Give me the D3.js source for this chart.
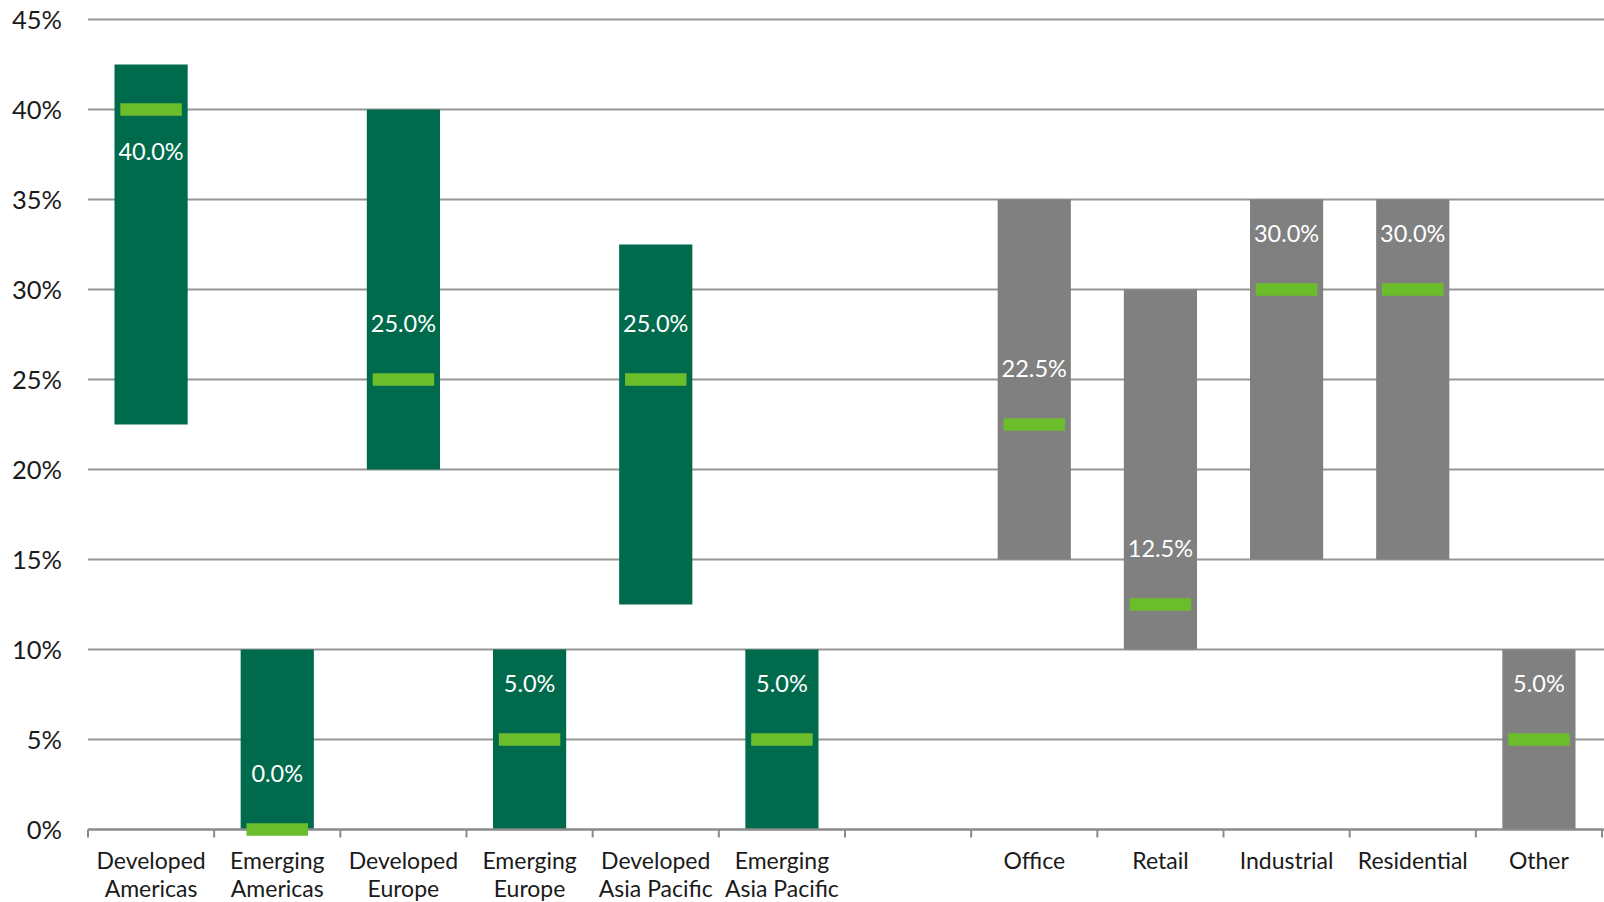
<!DOCTYPE html>
<html><head><meta charset="utf-8">
<script src="https://cdn.jsdelivr.net/npm/d3@7"></script>
<style>
html,body{margin:0;padding:0;background:#fff;}
svg{display:block;font-family:Lato,"Open Sans",sans-serif;}
</style></head>
<body>
<svg id="chart" width="1604" height="902"></svg>
<script>
// ---- data ----
const categories = ["Developed\nAmericas","Emerging\nAmericas","Developed\nEurope","Emerging\nEurope","Developed\nAsia Pacific","Emerging\nAsia Pacific","","Office","Retail","Industrial","Residential","Other"];
const groups = ["region","region","region","region","region","region","none","sector","sector","sector","sector","sector"];
const lowValues = [22.5,0,20,0,12.5,0,null,15,10,15,15,0];
const highValues = [42.5,10,40,10,32.5,10,null,35,30,35,35,10];
const targetValues = [40,0,25,5,25,5,null,22.5,12.5,30,30,5];
const yTicks = [0,5,10,15,20,25,30,35,40,45];

// ---- layout ----
const mLeft = 88, mRight = 1602, mTop = 19.5, mBottom = 829.5;
const svg = d3.select("#chart");
const colors = {region:"#006B4C", sector:"#808080"};
const markerColor = "#6CBD2B";

const x = d3.scaleBand().domain(d3.range(categories.length)).range([mLeft, mRight]).paddingInner(0.42).paddingOuter(0.21);
const xOuter = d3.scaleBand().domain(d3.range(categories.length)).range([mLeft, mRight]);
const y = d3.scaleLinear().domain([0,45]).range([mBottom, mTop]);

// gridlines
svg.append("g").selectAll("line").data(yTicks.filter(d=>d>0)).join("line")
  .attr("x1", mLeft).attr("x2", mRight+2)
  .attr("y1", d=>y(d)).attr("y2", d=>y(d))
  .attr("stroke","#959595").attr("stroke-width",2);

// y labels
svg.append("g").selectAll("text").data(yTicks).join("text")
  .attr("x", 62).attr("y", d=>y(d)).attr("dy","0.36em")
  .attr("text-anchor","end").attr("font-size",25.5).attr("fill","#1a1a1a")
  .text(d=>d+"%");

const idx = d3.range(categories.length).filter(i=>lowValues[i]!==null);

// bars
svg.append("g").selectAll("rect").data(idx).join("rect")
  .attr("x", i=>x(i)).attr("width", x.bandwidth())
  .attr("y", i=>y(highValues[i])).attr("height", i=>y(lowValues[i])-y(highValues[i]))
  .attr("fill", i=>colors[groups[i]]);

// x axis line + ticks
svg.append("line").attr("x1",mLeft).attr("x2",mRight+2).attr("y1",mBottom).attr("y2",mBottom)
  .attr("stroke","#8a8a8a").attr("stroke-width",2.5);
svg.append("g").selectAll("line").data(d3.range(categories.length+1)).join("line")
  .attr("x1", i=> i<categories.length ? xOuter(i) : mRight)
  .attr("x2", i=> i<categories.length ? xOuter(i) : mRight)
  .attr("y1", mBottom).attr("y2", mBottom+8)
  .attr("stroke","#8a8a8a").attr("stroke-width",2);

// markers
const mw = x.bandwidth()*0.84, mh = 12.5;
svg.append("g").selectAll("rect").data(idx).join("rect")
  .attr("x", i=>x(i)+(x.bandwidth()-mw)/2).attr("width", mw)
  .attr("y", i=>y(targetValues[i])-mh/2).attr("height", mh)
  .attr("fill", markerColor);

// value labels: above marker unless it would leave the bar, then below
svg.append("g").selectAll("text").data(idx).join("text")
  .attr("x", i=>x(i)+x.bandwidth()/2)
  .attr("y", i=>{
    const above = y(targetValues[i]) - 56;
    return above < y(highValues[i]) ? y(targetValues[i]) + 42 : above;
  })
  .attr("dy","0.36em").attr("text-anchor","middle")
  .attr("font-size",23.5).attr("fill","#fff")
  .text(i=>targetValues[i].toFixed(1)+"%");

// category labels
const cl = svg.append("g").selectAll("text").data(d3.range(categories.length)).join("text")
  .attr("text-anchor","middle").attr("font-size",23).attr("fill","#1a1a1a")
  .attr("x", i=>xOuter(i)+xOuter.bandwidth()/2).attr("y", 869);
cl.each(function(i){
  const lines = categories[i].split("\n");
  d3.select(this).selectAll("tspan").data(lines).join("tspan")
    .attr("x", xOuter(i)+xOuter.bandwidth()/2)
    .attr("dy",(d,k)=>k===0?0:28).text(d=>d);
});
</script>
</body></html>
